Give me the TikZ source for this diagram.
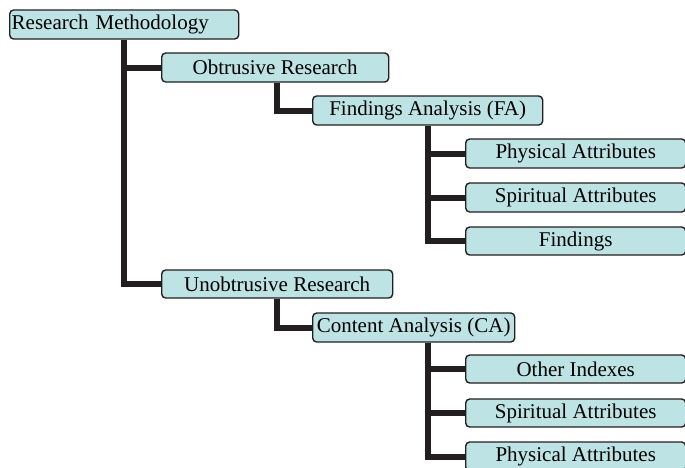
\documentclass[tikz,border=0pt]{standalone}
\usepackage{fontspec}
\setmainfont{Liberation Serif}
\usetikzlibrary{backgrounds}
\definecolor{boxfill}{RGB}{189,227,229}
\definecolor{linecol}{RGB}{35,31,32}
\tikzset{
  boxnode/.style={draw=linecol, line width=1.4pt, fill=boxfill, rounded corners=4pt,
    anchor=west, minimum height=29pt, inner sep=0pt, font=\fontsize{21pt}{23pt}\selectfont, align=center},
  conn/.style={draw=linecol, line width=6pt, line join=miter}
}
\begin{document}
\begin{tikzpicture}[x=1pt,y=-1pt]
\useasboundingbox (0,0) rectangle (685,467);
\node[boxnode, minimum width=229pt, text width=225pt, align=left] (root) at (9,24.5) {Research Methodology};
\node[boxnode, minimum width=227pt] (obt) at (161,67.5) {Obtrusive Research};
\node[boxnode, minimum width=230pt] (fa) at (312,110.5) {Findings Analysis (FA)};
\node[boxnode, minimum width=220pt] (pa1) at (465,153.5) {Physical Attributes};
\node[boxnode, minimum width=220pt] (sa1) at (465,197.5) {Spiritual Attributes};
\node[boxnode, minimum width=220pt, minimum height=28pt] (fi) at (465,241) {Findings};
\node[boxnode, minimum width=231pt, minimum height=28pt] (unob) at (161,284) {Unobtrusive Research};
\node[boxnode, minimum width=202pt] (ca) at (312,327.5) {Content Analysis (CA)};
\node[boxnode, minimum width=220pt, minimum height=28pt] (oi) at (465,369) {Other Indexes};
\node[boxnode, minimum width=220pt, minimum height=28pt] (sa2) at (465,413) {Spiritual Attributes};
\node[boxnode, minimum width=220pt] (pa2) at (465,456.5) {Physical Attributes};
\begin{scope}[on background layer]
\draw[conn] ([xshift=115pt]root.south west) |- (unob.west);
\draw[conn] ([xshift=115pt]root.south west) |- (obt.west);
\draw[conn] ([xshift=116pt]obt.south west) |- (fa.west);
\draw[conn] ([xshift=116pt]fa.south west) |- (fi.west);
\draw[conn] ([xshift=116pt]fa.south west) |- (pa1.west);
\draw[conn] ([xshift=116pt]fa.south west) |- (sa1.west);
\draw[conn] ([xshift=116pt]unob.south west) |- (ca.west);
\draw[conn] ([xshift=116pt]ca.south west) |- (pa2.west);
\draw[conn] ([xshift=116pt]ca.south west) |- (oi.west);
\draw[conn] ([xshift=116pt]ca.south west) |- (sa2.west);
\end{scope}
\end{tikzpicture}
\end{document}
